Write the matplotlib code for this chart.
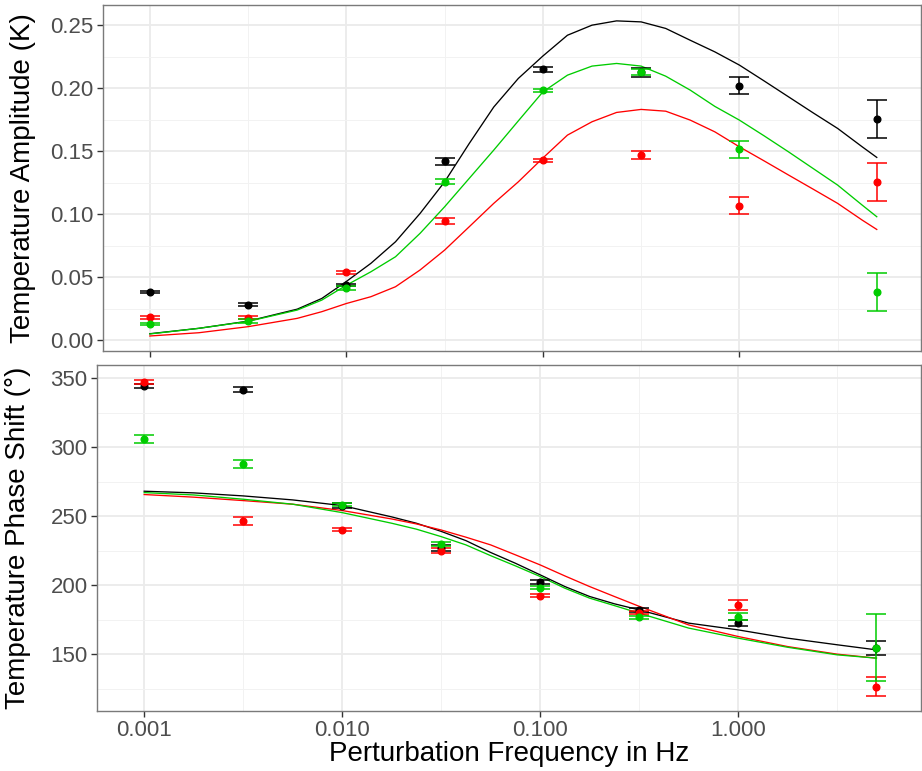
import numpy as np
import matplotlib
matplotlib.use("Agg")
import matplotlib.pyplot as plt
from matplotlib.ticker import FixedLocator, NullFormatter

plt.rcParams['font.family'] = ['Liberation Sans', 'DejaVu Sans']

# measured points
freq = [0.001, 0.00316, 0.01, 0.0316, 0.1, 0.316, 1.0, 5.0]

amp_black = [0.0381, 0.0280, 0.0437, 0.1418, 0.2150, 0.2126, 0.2020, 0.1757]
amp_black_err = [0.0008, 0.0010, 0.0010, 0.0027, 0.0018, 0.0037, 0.0065, 0.0150]
amp_red = [0.0180, 0.0177, 0.0537, 0.0947, 0.1429, 0.1468, 0.1066, 0.1257]
amp_red_err = [0.0012, 0.0012, 0.0012, 0.0025, 0.0012, 0.0034, 0.0066, 0.0151]
amp_green = [0.0127, 0.0148, 0.0412, 0.1257, 0.1982, 0.2130, 0.1513, 0.0381]
amp_green_err = [0.0010, 0.0015, 0.0015, 0.0020, 0.0012, 0.0025, 0.0067, 0.0150]

phase_black = [344.4, 341.8, 257.7, 226.8, 202.2, 182.1, 172.5, 154.6]
phase_black_err = [1.5, 1.5, 1.5, 2.0, 1.5, 1.5, 2.2, 5.0]
phase_red = [347.3, 246.6, 240.1, 225.1, 192.5, 180.1, 185.5, 126.5]
phase_red_err = [1.5, 3.0, 1.0, 1.5, 1.0, 1.0, 3.6, 7.0]
phase_green = [306.0, 287.9, 258.2, 229.7, 198.3, 176.8, 177.2, 154.8]
phase_green_err = [2.9, 3.0, 1.0, 1.5, 1.2, 1.0, 2.8, 24.0]

# model curves (log10 of frequency)
amp_fit_logf = [-3, -2.75, -2.5, -2.25, -2.125, -2, -1.875, -1.75, -1.625, -1.5, -1.375,
                -1.25, -1.125, -1, -0.875, -0.75, -0.625, -0.5, -0.375, -0.25, -0.125,
                0, 0.125, 0.25, 0.375, 0.5, 0.625, 0.699]
amp_fit_black = [0.0050, 0.0093, 0.0150, 0.0245, 0.0330, 0.0465, 0.0609, 0.0780, 0.1005,
                 0.1256, 0.1560, 0.1850, 0.2077, 0.2255, 0.2420, 0.2500, 0.2534, 0.2526,
                 0.2474, 0.2380, 0.2288, 0.2183, 0.2058, 0.1931, 0.1804, 0.1680, 0.1534,
                 0.1450]
amp_fit_red = [0.0032, 0.0058, 0.0106, 0.0172, 0.0225, 0.0290, 0.0344, 0.0423, 0.0556,
               0.0714, 0.0899, 0.1085, 0.1256, 0.1445, 0.1627, 0.1733, 0.1807, 0.1831,
               0.1817, 0.1746, 0.1653, 0.1534, 0.1423, 0.1310, 0.1198, 0.1085, 0.0952,
               0.0878]
amp_fit_green = [0.0048, 0.0093, 0.0148, 0.0238, 0.0317, 0.0435, 0.0542, 0.0661, 0.0847,
                 0.1058, 0.1283, 0.1508, 0.1740, 0.1970, 0.2103, 0.2175, 0.2196, 0.2175,
                 0.2095, 0.1984, 0.1855, 0.1746, 0.1622, 0.1494, 0.1362, 0.1230, 0.1071,
                 0.0979]

phase_fit_logf = [-3, -2.75, -2.5, -2.25, -2, -1.75, -1.625, -1.5, -1.375, -1.25, -1.125,
                  -1, -0.875, -0.75, -0.625, -0.5, -0.25, 0, 0.25, 0.5, 0.699]
phase_fit_black = [268.1, 266.9, 264.7, 261.8, 257.7, 249.5, 244.9, 239.0, 232.3, 223.7,
                   215.9, 207.5, 199.0, 191.8, 186.5, 182.1, 172.5, 167.6, 161.6, 156.8,
                   153.1]
phase_fit_red = [265.7, 263.8, 261.3, 258.7, 254.1, 248.0, 244.4, 240.0, 234.8, 229.2,
                 222.0, 214.7, 206.7, 199.0, 191.8, 184.7, 171.2, 162.8, 155.5, 150.0,
                 147.1]
phase_fit_green = [267.1, 265.4, 262.3, 258.7, 252.6, 244.9, 240.6, 235.2, 229.2, 221.4,
                   214.0, 206.3, 197.8, 190.6, 185.2, 179.7, 168.9, 161.6, 155.0, 149.5,
                   147.1]

x_ticks = [0.001, 0.01, 0.1, 1.0]
x_tick_labels = ["0.001", "0.010", "0.100", "1.000"]
x_minor = [10**-2.5, 10**-1.5, 10**-0.5, 10**0.5]

colors = {"black": "#000000", "red": "#FF0000", "green": "#00CC00"}

fig = plt.figure(figsize=(9.22, 7.71), dpi=100)
ax1 = fig.add_axes([0.1120, 0.5451, 0.8869, 0.4484])
ax2 = fig.add_axes([0.1055, 0.0782, 0.8934, 0.4484])


def style(ax, yticks, yminor, ylim):
    ax.set_xscale('log')
    ax.set_xlim(10**-3.237, 10**0.924)
    ax.set_ylim(*ylim)
    ax.xaxis.set_major_locator(FixedLocator(x_ticks))
    ax.xaxis.set_minor_locator(FixedLocator(x_minor))
    ax.xaxis.set_minor_formatter(NullFormatter())
    ax.yaxis.set_major_locator(FixedLocator(yticks))
    ax.yaxis.set_minor_locator(FixedLocator(yminor))
    ax.grid(which='major', color='#EBEBEB', linewidth=1.3)
    ax.grid(which='minor', color='#F2F2F2', linewidth=0.7)
    ax.set_axisbelow(True)
    for sp in ax.spines.values():
        sp.set_color('#7a7a7a')
        sp.set_linewidth(1.0)
    ax.tick_params(which='major', length=4, width=1.0, color='#333333',
                   labelsize=16, labelcolor='#4D4D4D', pad=3)
    ax.tick_params(which='minor', length=0)


def draw(ax, logf, fits, pts):
    for name, fit in fits:
        ax.plot([10**v for v in logf], fit, color=colors[name], linewidth=0.95, zorder=2)
    for name, y, e in pts:
        ax.errorbar(freq, y, yerr=e, fmt='o', color=colors[name], ms=4.8,
                    capsize=7, elinewidth=1.1, capthick=1.1, zorder=3)


draw(ax1, amp_fit_logf,
     [("black", amp_fit_black), ("red", amp_fit_red), ("green", amp_fit_green)],
     [("black", amp_black, amp_black_err), ("red", amp_red, amp_red_err),
      ("green", amp_green, amp_green_err)])
style(ax1, [0, 0.05, 0.10, 0.15, 0.20, 0.25], [0.025, 0.075, 0.125, 0.175, 0.225],
      (-0.0085, 0.266))
ax1.set_yticklabels(["0.00", "0.05", "0.10", "0.15", "0.20", "0.25"])
ax1.set_xticklabels([])
ax1.set_ylabel("Temperature Amplitude (K)", fontsize=20)
ax1.yaxis.set_label_coords(-0.0822, 0.5)

draw(ax2, phase_fit_logf,
     [("black", phase_fit_black), ("red", phase_fit_red), ("green", phase_fit_green)],
     [("black", phase_black, phase_black_err), ("red", phase_red, phase_red_err),
      ("green", phase_green, phase_green_err)])
style(ax2, [150, 200, 250, 300, 350], [125, 175, 225, 275, 325], (109, 359.6))
ax2.set_yticklabels(["150", "200", "250", "300", "350"])
ax2.set_xticklabels(x_tick_labels)
ax2.set_ylabel("Temperature Phase Shift (°)", fontsize=20)
ax2.yaxis.set_label_coords(-0.0804, 0.5)
ax2.set_xlabel("Perturbation Frequency in Hz", fontsize=20, labelpad=0)

fig.savefig("out.png", dpi=100)
